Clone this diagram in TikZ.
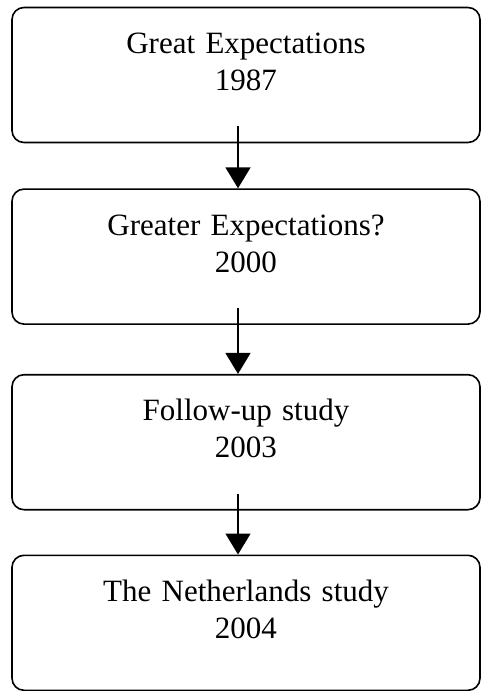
\documentclass[tikz,border=0pt]{standalone}
\usepackage{fontspec}
\setmainfont{Liberation Serif}
\usetikzlibrary{positioning}
\usetikzlibrary{arrows.meta}

\begin{document}
\begin{tikzpicture}[x=1pt, y=1pt,
		stage/.style={rectangle, rounded corners=12pt, draw=black, line width=1.6pt, text width=440pt, align=center, minimum width=468pt, minimum height=135pt, font=\fontsize{31}{37}\selectfont, text height=27pt, text depth=70pt},
		arrow/.style={-{Triangle[length=21pt, width=25pt]}, line width=1.6pt}
	]
		\useasboundingbox (0,0) rectangle (482,-691);
		\node[stage] (e1) at (246,-75) {Great Expectations\\1987};
		\node[stage, below=45pt of e1] (e2) {Greater Expectations?\\2000};
		\node[stage, below=49pt of e2] (e3) {Follow-up study\\2003};
		\node[stage, below=44pt of e3] (e4) {The Netherlands study\\2004};

		\draw[arrow] ([xshift=-8pt, yshift=17pt]e1.south) -- ([xshift=-8pt]e2.north);
		\draw[arrow] ([xshift=-8pt, yshift=17pt]e2.south) -- ([xshift=-8pt]e3.north);
		\draw[arrow] ([xshift=-8pt, yshift=17pt]e3.south) -- ([xshift=-8pt]e4.north);
	\end{tikzpicture}
\end{document}
